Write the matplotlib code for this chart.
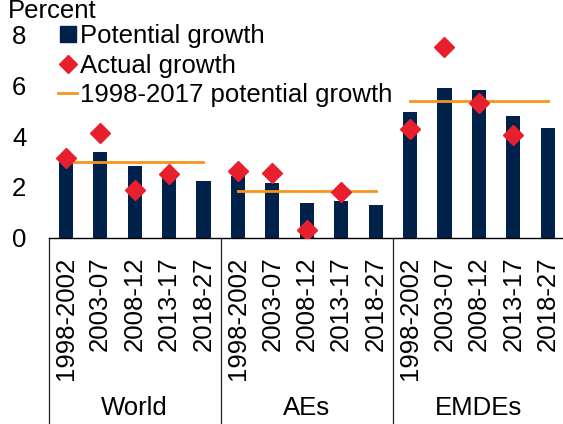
import matplotlib
matplotlib.use("Agg")
import matplotlib.pyplot as plt
from matplotlib.lines import Line2D
import matplotlib.transforms as mtransforms
import numpy as np

plt.rcParams['font.family'] = ['Liberation Sans', 'DejaVu Sans']

# data
groups = ['World', 'AEs', 'EMDEs']
periods = ['1998-2002', '2003-07', '2008-12', '2013-17', '2018-27']
potential = [3.10, 3.36, 2.82, 2.55, 2.24,
             2.43, 2.15, 1.38, 1.43, 1.29,
             4.95, 5.91, 5.83, 4.78, 4.30]
actual = [3.13, 4.14, 1.88, 2.50, np.nan,
          2.62, 2.56, 0.30, 1.78, np.nan,
          4.27, 7.51, 5.29, 4.03, np.nan]
avg_potential = [2.98, 1.85, 5.38]

navy = '#00224A'
red = '#E8202E'
orange = '#F7941D'
fs = 18.5

fig = plt.figure(figsize=(5.63, 4.24), dpi=100)
ax = fig.add_axes([48.5/563, 1-237.7/424, 516.5/563, 203.2/424])

n = len(periods)
x = np.arange(len(groups)*n)
ax.bar(x, potential, width=0.41, color=navy, zorder=2)
for g, val in enumerate(avg_potential):
    xs = np.arange(g*n, g*n+n)
    ax.plot(xs, [val]*n, color=orange, lw=2, zorder=3)
ax.plot(x, actual, ls='none', marker='D', ms=10.5, color=red, mec=red, zorder=4)

ax.set_ylim(0, 8)
ax.set_xlim(-0.5, 14.5)
ax.set_yticks([0, 2, 4, 6, 8])
ax.set_xticks(x)
ax.set_xticklabels(periods*len(groups), rotation=90, va='top')
ax.tick_params(axis='both', length=0, labelsize=fs)
ax.tick_params(axis='x', pad=13.5)
ax.tick_params(axis='y', pad=16)
for s in ['left', 'right', 'top']:
    ax.spines[s].set_visible(False)
ax.spines['bottom'].set_linewidth(1)

trans = mtransforms.blended_transform_factory(ax.transData, ax.transAxes)
for g in range(len(groups)+1):
    ax.plot([g*n-0.5, g*n-0.5], [0, -0.93], color='#222222', lw=0.9,
            transform=trans, clip_on=False)
for g, name in enumerate(groups):
    ax.text(g*n+2, -0.84, name, transform=trans, ha='center', va='center',
            fontsize=fs)

fig.text(8/563, 1-11/424, 'Percent', fontsize=fs, va='center', ha='left')

handles = [Line2D([], [], ls='none', marker='s', ms=11.5, color=navy),
           Line2D([], [], ls='none', marker='D', ms=9, color=red),
           Line2D([], [], color=orange, lw=2)]
labels = ['Potential growth', 'Actual growth', '1998-2017 potential growth']
ax.legend(handles, labels, loc='upper left', bbox_to_anchor=(58/563, 1-24/424),
          bbox_transform=fig.transFigure, frameon=False, fontsize=fs,
          borderpad=0, borderaxespad=0, handlelength=0.75, handletextpad=0.1,
          labelspacing=0.22)

fig.savefig('out.png', dpi=100)
